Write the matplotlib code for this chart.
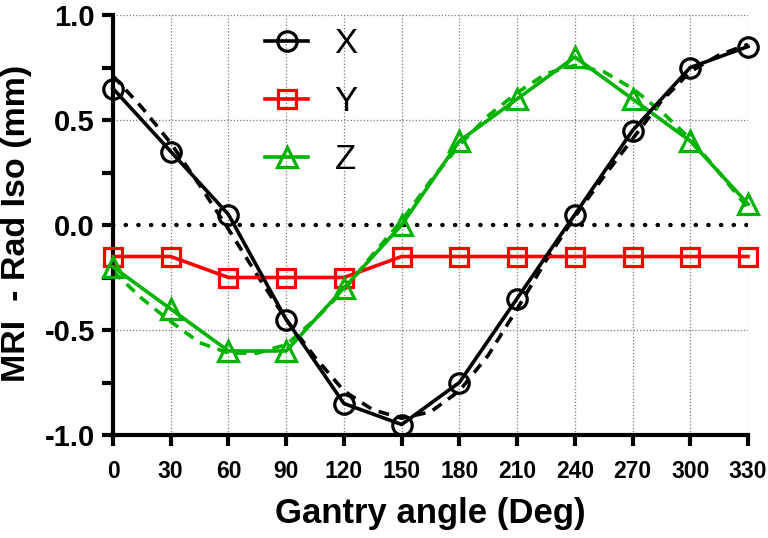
import matplotlib
matplotlib.use("Agg")
import matplotlib.pyplot as plt
from matplotlib import font_manager

# ---- data ----
angles = [0, 30, 60, 90, 120, 150, 180, 210, 240, 270, 300, 330]
x_vals = [0.65, 0.35, 0.05, -0.45, -0.85, -0.95, -0.75, -0.35, 0.05, 0.45, 0.75, 0.85]
y_vals = [-0.15, -0.15, -0.25, -0.25, -0.25, -0.15, -0.15, -0.15, -0.15, -0.15, -0.15, -0.15]
z_vals = [-0.20, -0.40, -0.60, -0.60, -0.30, 0.00, 0.40, 0.60, 0.80, 0.60, 0.40, 0.10]

fit_angles = [0, 15, 30, 45, 60, 75, 90, 105, 120, 135, 150, 165, 180, 195, 210, 225,
              240, 255, 270, 285, 300, 315, 330]
x_fit = [0.71, 0.56, 0.39, 0.19, -0.02, -0.24, -0.45, -0.63, -0.79, -0.88, -0.92, -0.89,
         -0.79, -0.62, -0.40, -0.17, 0.04, 0.23, 0.41, 0.59, 0.73, 0.81, 0.86]
z_fit = [-0.22, -0.35, -0.46, -0.56, -0.61, -0.61, -0.57, -0.45, -0.31, -0.14, 0.02, 0.21,
         0.38, 0.52, 0.63, 0.72, 0.76, 0.73, 0.65, 0.54, 0.41, 0.25, 0.08]

xticks = angles
yticks = [-1.0, -0.5, 0.0, 0.5, 1.0]
ytick_labels = ["-1.0", "-0.5", "0.0", "0.5", "1.0"]
series_names = ["X", "Y", "Z"]

black = "#000000"
red = "#ff0000"
green = "#00b300"

names = {f.name for f in font_manager.fontManager.ttflist}
narrow = "Liberation Sans Narrow" if "Liberation Sans Narrow" in names else "Liberation Sans"
xt_size = 19 if narrow == "Liberation Sans Narrow" else 16.5

plt.rcParams["font.family"] = ["Liberation Sans", "DejaVu Sans"]

fig = plt.figure(figsize=(7.68, 5.38), dpi=100)
ax = fig.add_axes([113/768, 1-435/538, (748-113)/768, (435-15)/538])

ax.set_xlim(0, 330)
ax.set_ylim(-1.0, 1.0)

# grid
grid_kw = dict(color="#7a7a7a", lw=0.9, linestyle=(0, (1, 1.6)), zorder=0)
for a in angles[1:]:
    ax.axvline(a, **grid_kw)
for v in [-0.5, 0.5, 1.0]:
    ax.axhline(v, **grid_kw)
ax.axhline(0, color="black", lw=3.2, linestyle=(0, (0.05, 2.8)), dash_capstyle="round", zorder=1)

# fits
ax.plot(fit_angles, x_fit, color=black, lw=2.6, linestyle=(0, (3.0, 2.2)), zorder=2)
ax.plot(fit_angles, z_fit, color=green, lw=2.6, linestyle=(0, (3.0, 2.2)), zorder=2)

lw = 2.6
mew = 2.3
lx, = ax.plot(angles, x_vals, color=black, lw=lw, marker="o", ms=14, mfc="none", mew=mew,
              clip_on=False, zorder=4, label=series_names[0])
ly, = ax.plot(angles, y_vals, color=red, lw=lw, marker="s", ms=13, mfc="none", mew=mew,
              clip_on=False, zorder=3, label=series_names[1])
lz, = ax.plot(angles, z_vals, color=green, lw=lw, marker="^", ms=15, mfc="none", mew=mew,
              clip_on=False, zorder=3, label=series_names[2])

# spines
for s in ["top", "right"]:
    ax.spines[s].set_visible(False)
for s in ["left", "bottom"]:
    ax.spines[s].set_linewidth(3)

ax.set_xticks(xticks)
ax.set_xticklabels([str(a) for a in xticks], fontfamily=narrow, fontweight="bold", fontsize=xt_size)
ax.set_yticks(yticks)
ax.set_yticklabels(ytick_labels, fontweight="bold", fontsize=21)
ax.set_yticks([-0.75, -0.25, 0.25, 0.75], minor=True)
ax.tick_params(axis="both", which="both", direction="out", length=8, width=3)
ax.tick_params(axis="x", pad=10)
ax.tick_params(axis="y", pad=5)

ax.set_xlabel("Gantry angle (Deg)", fontweight="bold", fontsize=25, va="center")
ax.xaxis.set_label_coords(0.5, (435-513)/420)
ax.set_ylabel("MRI  - Rad Iso (mm)", fontweight="bold", fontsize=24.5, va="center")
ax.yaxis.set_label_coords((17-113)/635, (435-223)/420)

leg = ax.legend(handles=[lx, ly, lz], loc="upper left",
                bbox_to_anchor=(265/768, 1-27/538), bbox_transform=fig.transFigure,
                frameon=False, fontsize=25, handlelength=1.25, handletextpad=0.75,
                labelspacing=0.72, borderpad=0, borderaxespad=0)

fig.savefig("out.png", dpi=100)
